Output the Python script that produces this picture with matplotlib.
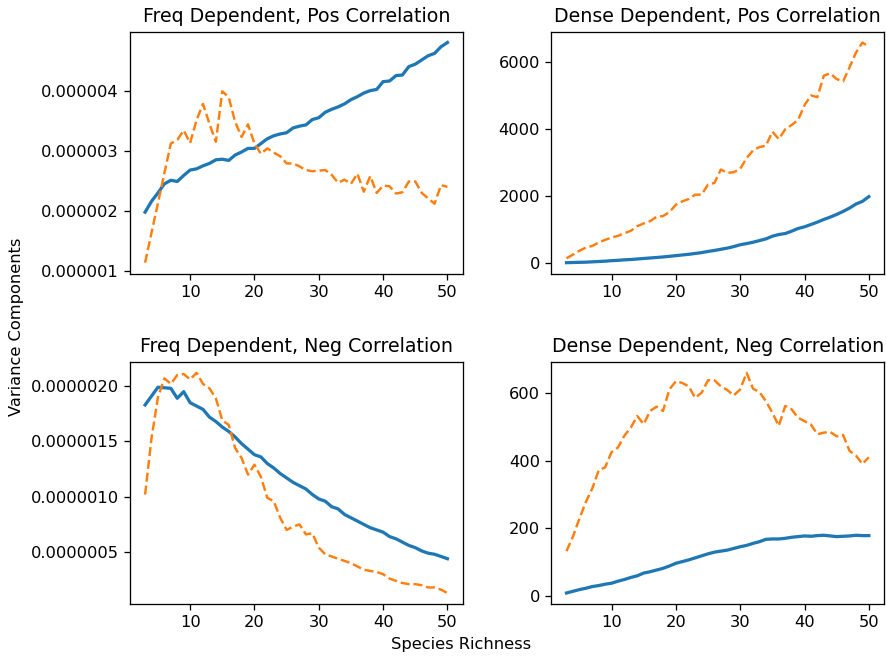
import matplotlib
matplotlib.use("Agg")
import matplotlib.pyplot as plt
import numpy as np

richness = list(range(3, 51))

# frequency dependent, positive correlation (x1e-6)
freq_pos_a = [1.98, 2.16, 2.30, 2.45, 2.51, 2.49, 2.59, 2.68, 2.70, 2.75, 2.79, 2.85,
              2.86, 2.84, 2.93, 2.98, 3.04, 3.04, 3.12, 3.20, 3.25, 3.28, 3.30, 3.38,
              3.41, 3.43, 3.52, 3.55, 3.64, 3.69, 3.73, 3.78, 3.85, 3.90, 3.96, 4.00,
              4.02, 4.15, 4.16, 4.25, 4.26, 4.40, 4.44, 4.51, 4.58, 4.62, 4.73, 4.80]
freq_pos_b = [1.14, 1.64, 2.13, 2.63, 3.12, 3.18, 3.34, 3.13, 3.51, 3.78, 3.45, 3.15,
              3.99, 3.89, 3.48, 3.23, 3.44, 3.12, 2.95, 3.04, 2.97, 2.91, 2.79, 2.79,
              2.74, 2.68, 2.66, 2.67, 2.68, 2.60, 2.47, 2.52, 2.45, 2.62, 2.32, 2.58,
              2.30, 2.42, 2.41, 2.29, 2.31, 2.49, 2.49, 2.30, 2.21, 2.12, 2.43, 2.40]

# density dependent, positive correlation
dense_pos_a = [10, 15, 20, 25, 35, 45, 55, 70, 80, 95, 105, 120, 135, 150, 165, 180,
               200, 220, 240, 260, 285, 310, 345, 375, 410, 445, 490, 545, 580, 620,
               670, 720, 800, 850, 880, 950, 1030, 1080, 1150, 1220, 1300, 1370, 1450,
               1540, 1640, 1760, 1840, 1980]
dense_pos_b = [140, 250, 365, 460, 510, 610, 690, 760, 810, 890, 960, 1100, 1180, 1250,
               1380, 1400, 1520, 1740, 1840, 1910, 2040, 2040, 2340, 2390, 2790, 2690,
               2710, 2810, 3130, 3360, 3460, 3500, 3920, 3700, 3990, 4120, 4270, 4710,
               5000, 4950, 5590, 5660, 5490, 5420, 5840, 6280, 6580, 6450]

# frequency dependent, negative correlation (x1e-6)
freq_neg_a = [1.83, 1.91, 1.99, 1.985, 1.98, 1.89, 1.95, 1.85, 1.82, 1.79, 1.72, 1.68,
              1.63, 1.59, 1.54, 1.48, 1.43, 1.38, 1.36, 1.30, 1.26, 1.21, 1.17, 1.13,
              1.10, 1.07, 1.02, 0.98, 0.96, 0.91, 0.89, 0.84, 0.81, 0.78, 0.75, 0.72,
              0.70, 0.68, 0.64, 0.62, 0.59, 0.56, 0.54, 0.51, 0.49, 0.48, 0.46, 0.44]
freq_neg_b = [1.02, 1.53, 1.90, 2.07, 2.02, 2.10, 2.11, 2.06, 2.12, 2.02, 1.98, 1.89,
              1.69, 1.65, 1.44, 1.35, 1.20, 1.29, 1.18, 0.99, 0.96, 0.81, 0.70, 0.73,
              0.75, 0.66, 0.67, 0.54, 0.48, 0.46, 0.44, 0.42, 0.40, 0.37, 0.34, 0.33,
              0.32, 0.30, 0.26, 0.24, 0.22, 0.21, 0.21, 0.20, 0.18, 0.18, 0.16, 0.13]

# density dependent, negative correlation
dense_neg_a = [8, 13, 18, 22, 27, 30, 34, 37, 43, 48, 54, 59, 67, 71, 76, 81, 88, 96,
               101, 106, 112, 118, 124, 129, 132, 135, 140, 145, 149, 155, 160, 167,
               168, 168, 170, 173, 175, 177, 176, 178, 179, 177, 175, 176, 177, 179,
               178, 178]
dense_neg_b = [132, 175, 228, 277, 317, 371, 380, 425, 439, 474, 498, 532, 508, 547,
               560, 547, 611, 635, 630, 620, 586, 601, 638, 638, 620, 609, 593, 611,
               660, 613, 603, 576, 542, 503, 562, 552, 527, 517, 507, 478, 483, 485,
               472, 476, 429, 415, 390, 410]

panels = [
    ("Freq Dependent, Pos Correlation", np.array(freq_pos_a) * 1e-6, np.array(freq_pos_b) * 1e-6, None),
    ("Dense Dependent, Pos Correlation", dense_pos_a, dense_pos_b, [0, 2000, 4000, 6000]),
    ("Freq Dependent, Neg Correlation", np.array(freq_neg_a) * 1e-6, np.array(freq_neg_b) * 1e-6, None),
    ("Dense Dependent, Neg Correlation", dense_neg_a, dense_neg_b, [0, 200, 400, 600]),
]

DPI = 117


def main():
    fig, axes = plt.subplots(2, 2, figsize=(886 / DPI, 662 / DPI), dpi=DPI)
    fig.subplots_adjust(left=0.1467, right=0.9977, top=0.9524, bottom=0.0876,
                        wspace=0.267, hspace=0.364)

    for ax, (title, a, b, yticks) in zip(axes.ravel(), panels):
        ax.plot(richness, a, color="#1f77b4", linewidth=2.0)
        ax.plot(richness, b, color="#ff7f0e", linewidth=1.5, linestyle="--")
        ax.set_title(title, fontsize=11.7)
        ax.set_xticks([10, 20, 30, 40, 50])
        if yticks is not None:
            ax.set_yticks(yticks)
        ax.ticklabel_format(style="plain", axis="y", useOffset=False)

    fig.text(0.52, 0.026, "Species Richness", ha="center", va="center")
    fig.text(0.019, 0.506, "Variance Components", ha="center", va="center", rotation=90)

    fig.savefig("out.png", dpi=DPI)
    plt.close(fig)


if __name__ == "__main__":
    main()
